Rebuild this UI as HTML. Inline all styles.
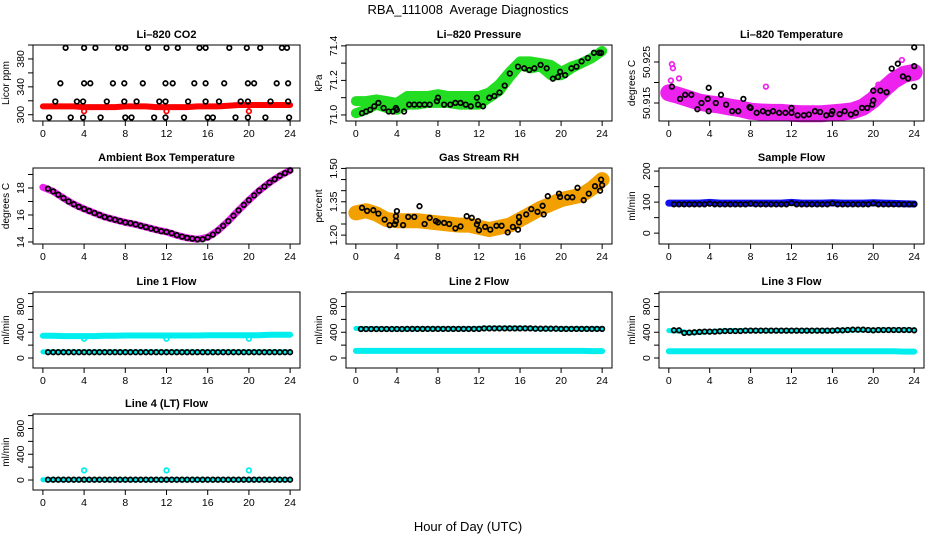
<!DOCTYPE html>
<html><head><meta charset="utf-8"><style>
html,body{margin:0;padding:0;background:#fff;}
svg{display:block;font-family:"Liberation Sans",Arial,sans-serif;}
</style></head><body>
<svg id="chart" width="936" height="540" viewBox="0 0 936 540">
<text x="468" y="14" text-anchor="middle" font-size="13" xml:space="preserve">RBA_111008  Average Diagnostics</text>
<text x="468" y="531" text-anchor="middle" font-size="13">Hour of Day (UTC)</text>
</svg>
<script>
// shared half-hour times for black average points
const T = [0.5,1,1.5,2,2.5,3,3.5,4,4.5,5,5.5,6,6.5,7,7.5,8,8.5,9,9.5,10,10.5,11,11.5,12,12.5,13,13.5,14,14.5,15,15.5,16,16.5,17,17.5,18,18.5,19,19.5,20,20.5,21,21.5,22,22.5,23,23.5,24];
const H = [0,1,2,3,4,5,6,7,8,9,10,11,12,13,14,15,16,17,18,19,20,21,22,23,24];
const xTicks = [0,4,8,12,16,20,24];

// CO2
const co2BandVals = [312,312,312,312,311,311,311,311,312,312,312,311,311,311,311,312,312,312,313,314,314,314,314,314,314];
const co2Times = [2.2,4.0,5.1,7.3,8.0,10.2,12.0,13.1,15.2,15.8,18.1,19.8,21.1,23.2,23.7, 1.7,4.0,4.6,6.8,7.9,9.7,11.9,12.6,14.7,15.8,17.6,19.9,20.5,22.7,23.8, 1.2,3.3,3.9,6.2,7.9,9.1,11.3,11.9,14.1,15.8,17.1,19.2,19.9,22.1,23.8, 0.6,2.7,3.9,5.6,8.0,8.6,10.8,11.9,13.7,16.0,16.5,18.7,19.9,21.6,23.9];
const co2Vals = [396,396,396,396,396,396,396,396,396,396,396,396,396,396,396, 345,345,345,345,345,345,345,345,345,345,345,345,345,345,345, 319,319,319,319,319,319,319,319,319,319,319,319,319,319,319, 296,296,296,296,296,296,296,296,296,296,296,296,296,296,296];
const co2OutT = [4,12,20];
const co2OutV = [305,305,305];

// Pressure
const presUpper = [71.08,71.08,71.09,71.08,71.07,71.11,71.11,71.11,71.12,71.11,71.11,71.11,71.11,71.13,71.18,71.25,71.31,71.31,71.30,71.29,71.25,71.28,71.30,71.33,71.37];
const presLower = [71.01,71.03,71.06,71.04,71.03,71.06,71.06,71.07,71.07,71.07,71.06,71.06,71.06,71.10,71.14,71.22,71.29,71.27,71.28,71.23,71.23,71.27,71.30,71.33,71.37];
const presTimes = [0.6,1,1.4,1.8,2.2,2.7,3.2,3.6,3.9,4,4.7,5.2,5.7,6.2,6.7,7.2,7.9,8,8.6,9.2,9.7,10.2,10.7,11.2,11.8,11.9,12.4,13,13.5,14,14.5,15,15.8,16.4,16.9,17.4,18,18.6,19.2,19.7,19.9,20.4,21,21.5,22,22.6,23.2,23.7,23.9];
const presVals = [71.01,71.02,71.03,71.05,71.07,71.04,71.02,71.02,71.04,71.03,71.02,71.06,71.06,71.06,71.06,71.06,71.08,71.10,71.06,71.06,71.07,71.07,71.06,71.05,71.10,71.06,71.05,71.10,71.11,71.13,71.17,71.24,71.28,71.27,71.26,71.27,71.29,71.27,71.21,71.22,71.25,71.23,71.27,71.28,71.31,71.33,71.36,71.36,71.36];

// Li-820 temperature
const tempBand = [50.9175,50.9168,50.9160,50.9152,50.9148,50.9145,50.9140,50.9136,50.9130,50.9128,50.9127,50.9127,50.9125,50.9124,50.9124,50.9124,50.9126,50.9128,50.9131,50.9140,50.9158,50.9183,50.9205,50.9220,50.9225];
const tempTimes = [0.3,1.1,1.6,2.2,2.8,3.2,3.8,3.9,3.9,4.6,5.1,5.6,6.2,6.8,7.3,7.9,8.0,8.6,9.2,9.7,10.2,10.8,11.4,12.0,12.0,12.6,13.2,13.7,14.3,14.8,15.4,15.9,16.0,16.7,17.2,17.8,18.3,18.9,19.4,19.9,20.0,20.0,20.7,21.3,21.8,22.4,22.9,23.4,24.0,24.0,24.0];
const tempVals = [50.9190,50.9160,50.9170,50.9170,50.9135,50.9150,50.9160,50.9187,50.9130,50.9150,50.9170,50.9146,50.9130,50.9130,50.9160,50.9140,50.9138,50.9126,50.9130,50.9126,50.9130,50.9126,50.9126,50.9126,50.9138,50.9120,50.9120,50.9122,50.9130,50.9128,50.9120,50.9123,50.9130,50.9123,50.9130,50.9122,50.9126,50.9138,50.9138,50.9146,50.9156,50.9180,50.9180,50.9176,50.9234,50.9246,50.9215,50.9210,50.9190,50.9240,50.9286];
const tempOutT = [0.3,0.4,9.5,1.0,22.8,0.2,20.5];
const tempOutV = [50.9245,50.9235,50.9190,50.9210,50.9255,50.9205,50.9195];

// Ambient box temperature
const ambBand = [18.05,17.75,17.25,16.8,16.45,16.15,15.85,15.65,15.45,15.3,15.1,14.9,14.75,14.5,14.3,14.2,14.35,14.85,15.55,16.35,17.1,17.8,18.4,18.9,19.3];
const ambVals = [17.95,17.75,17.5,17.25,17.0,16.8,16.6,16.45,16.3,16.15,16.0,15.85,15.75,15.65,15.55,15.45,15.4,15.3,15.2,15.1,15.0,14.9,14.8,14.75,14.65,14.5,14.4,14.3,14.25,14.2,14.2,14.35,14.55,14.85,15.2,15.55,15.95,16.35,16.75,17.1,17.45,17.8,18.1,18.4,18.65,18.9,19.1,19.3];

// Gas stream RH
const rhBand = [1.30,1.31,1.295,1.27,1.265,1.265,1.265,1.26,1.255,1.25,1.245,1.245,1.235,1.225,1.235,1.245,1.27,1.295,1.32,1.34,1.36,1.37,1.38,1.41,1.45];
const rhTimes = [0.6,1.1,1.7,2.2,2.8,3.3,3.8,3.9,4.0,3.9,4.6,5.1,5.7,6.2,6.7,7.2,7.8,8.0,8.6,9.1,9.7,10.2,10.8,11.3,11.8,11.9,12.0,12.6,13.1,13.7,14.2,14.8,15.3,15.8,15.9,15.9,16.6,17.1,17.7,18.2,18.7,18.3,19.8,19.9,20.6,21.1,21.6,22.2,22.7,23.3,23.8,23.9,24.0];
const rhVals = [1.323,1.309,1.312,1.297,1.270,1.245,1.248,1.285,1.308,1.263,1.245,1.282,1.282,1.330,1.250,1.278,1.263,1.257,1.255,1.250,1.230,1.239,1.285,1.278,1.248,1.263,1.222,1.237,1.225,1.242,1.242,1.212,1.237,1.225,1.257,1.282,1.293,1.317,1.305,1.332,1.375,1.293,1.387,1.372,1.370,1.370,1.413,1.357,1.387,1.420,1.400,1.450,1.425];

// Sample flow
const sampBand = [97,97,97,97,99,97,97,97,97,97,97,97,99,97,97,97,98,97,97,97,98,97,96,95,94];
const sampVals = [93,93,93,93,93,93,93,95,93,93,93,93,93,93,93,95,93,93,93,93,93,93,93,97,93,93,93,93,93,93,93,96,93,93,93,93,93,93,93,96,93,93,93,93,93,93,93,93];

// Line flows
const l1High = [345,345,340,340,340,340,345,345,350,350,350,350,350,350,350,350,355,355,355,355,355,355,360,360,360];
const l1Low = [95,95,95,95,95,95,95,95,95,95,95,95,95,95,95,95,95,95,95,95,95,95,95,95,95];
const l1Vals = [90,90,90,90,90,90,90,90,90,90,90,90,90,90,90,90,90,90,90,90,90,90,90,90,90,90,90,90,90,90,90,90,90,90,90,90,90,90,90,90,90,90,90,90,90,90,90,90];
const l1OutT = [4,12,20];
const l1OutV = [300,300,300];

const l2High = [460,455,455,450,450,450,455,455,455,455,455,455,460,465,465,465,465,460,455,455,455,455,455,455,455];
const l2Low = [110,110,110,110,110,110,110,110,110,110,110,110,110,110,110,110,110,110,110,110,110,110,110,108,108];
const l2Vals = [450,450,450,450,450,450,450,450,450,452,452,452,452,452,452,452,452,452,452,452,452,452,452,452,460,460,460,460,460,460,460,460,460,460,455,455,455,455,455,452,452,452,452,452,452,452,452,452];

const l3High = [425,420,390,400,410,420,425,425,425,425,425,425,425,425,425,425,425,430,435,435,430,435,435,435,435];
const l3Low = [105,105,105,105,105,105,105,105,105,105,105,105,105,105,105,105,105,105,105,105,105,105,105,100,100];
const l3Vals = [430,430,390,395,400,405,410,410,410,415,420,420,420,420,425,425,425,425,425,425,425,425,425,425,425,425,425,425,425,425,425,425,430,430,435,440,440,440,435,430,435,435,435,435,435,435,435,430];

const l4Band = [5,5,5,5,5,5,5,5,5,5,5,5,5,5,5,5,5,5,5,5,5,5,5,5,5];
const l4Vals = [5,5,5,5,5,5,5,5,5,5,5,5,5,5,5,5,5,5,5,5,5,5,5,5,5,5,5,5,5,5,5,5,5,5,5,5,5,5,5,5,5,5,5,5,5,5,5,5];
const l4OutT = [4,12,20];
const l4OutV = [150,150,150];

const NS = 'http://www.w3.org/2000/svg';
const svg = document.getElementById('chart');
const cols = [[33,300],[346,612],[659,924]];
const rows = [45,168,292,414];
const PH = 76;

function mk(tag, attrs, parent) {
  const e = document.createElementNS(NS, tag);
  for (const k in attrs) e.setAttribute(k, attrs[k]);
  (parent || svg).appendChild(e);
  return e;
}

function panel(key, ci, ri, title, ylab, ymin, ymax, ticks, labels) {
  const l = cols[ci][0], r = cols[ci][1], t = rows[ri], b = t + PH;
  const g = mk('g', {});
  
  
  const sx = v => l + (v + 0.96) / 25.92 * (r - l);
  const sy = v => b - (v - ymin) / (ymax - ymin) * (b - t);
  const tt = mk('text', {x: (l + r) / 2, y: t - 7, 'text-anchor': 'middle', 'font-size': 11, 'font-weight': 'bold'}, g);
  tt.textContent = title;
  
  
  const yl = mk('text', {x: 0, y: 0, transform: `translate(${l - 24},${(t + b) / 2}) rotate(-90)`, 'text-anchor': 'middle', 'font-size': 10}, g);
  yl.textContent = ylab;
  
  
  const xa = mk('g', {}, g);
  
  
  mk('line', {x1: sx(0), x2: sx(24), y1: b, y2: b, stroke: '#000'}, xa);
  xTicks.forEach(v => {
    mk('line', {x1: sx(v), x2: sx(v), y1: b, y2: b + 5, stroke: '#000'}, xa);
    const tx = mk('text', {x: sx(v), y: b + 16, 'text-anchor': 'middle', 'font-size': 10.5}, xa);
    tx.textContent = v;
  });
  const ya = mk('g', {}, g);
  
  
  mk('line', {x1: l, x2: l, y1: sy(ticks[0]), y2: sy(ticks[ticks.length - 1]), stroke: '#000'}, ya);
  ticks.forEach(v => mk('line', {x1: l - 5, x2: l, y1: sy(v), y2: sy(v), stroke: '#000'}, ya));
  labels.forEach(lb => {
    const ty = mk('text', {x: 0, y: 0, transform: `translate(${l - 9},${sy(parseFloat(lb))}) rotate(-90)`, 'text-anchor': 'middle', 'font-size': 10.5}, ya);
    ty.textContent = lb;
  });
  const plot = mk('g', {}, g);
  const box = mk('rect', {x: l, y: t, width: r - l, height: PH, fill: 'none', stroke: '#000'}, g);
  
  
  return {sx, sy, plot};
}

function band(p, name, xs, ys, color, w) {
  const pts = xs.map((x, i) => p.sx(x).toFixed(1) + ',' + p.sy(ys[i]).toFixed(1)).join(' ');
  const pl = mk('polyline', {points: pts, fill: 'none', stroke: color, 'stroke-width': w, 'stroke-linejoin': 'round', 'stroke-linecap': 'round'}, p.plot);
  
  
}

function dots(p, name, xs, ys, color, rad, sw) {
  const g = mk('g', {}, p.plot);
  
  
  xs.forEach((x, i) => {
    mk('circle', {cx: p.sx(x).toFixed(1), cy: p.sy(ys[i]).toFixed(1), r: rad || 2.3, fill: 'none', stroke: color, 'stroke-width': sw || 1.7}, g);
  });
}

let p = panel('co2', 0, 0, 'Li\u2013820 CO2', 'Licor ppm', 291, 400, [300,320,340,360,380,400], ['300','340','380']);
band(p, 'co2-band', H, co2BandVals, '#ff0000', 6);
dots(p, 'co2-outliers', co2OutT, co2OutV, '#ff0000');
dots(p, 'co2-averages', co2Times, co2Vals, '#000');

p = panel('pressure', 1, 0, 'Li\u2013820 Pressure', 'kPa', 70.965, 71.405, [71.0,71.1,71.2,71.3,71.4], ['71.0','71.2','71.4']);
band(p, 'pressure-band-upper', H, presUpper, '#22dd22', 10);
band(p, 'pressure-band-lower', H, presLower, '#22dd22', 10);
dots(p, 'pressure-averages', presTimes, presVals, '#000');

p = panel('temperature', 2, 0, 'Li\u2013820 Temperature', 'degrees C', 50.91061, 50.92915, [50.915,50.920,50.925], ['50.915','50.925']);
band(p, 'temperature-band', H, tempBand, '#ee22ee', 17);
dots(p, 'temperature-outliers', tempOutT, tempOutV, '#ee22ee');
dots(p, 'temperature-averages', tempTimes, tempVals, '#000');

p = panel('ambient', 0, 1, 'Ambient Box Temperature', 'degrees C', 13.85, 19.48, [14,15,16,17,18,19], ['14','16','18']);
band(p, 'ambient-band', H, ambBand, '#ee22ee', 7);
dots(p, 'ambient-averages', T, ambVals, '#000');

p = panel('rh', 1, 1, 'Gas Stream RH', 'percent', 1.16, 1.502, [1.20,1.25,1.30,1.35,1.40,1.45,1.50], ['1.20','1.35','1.50']);
band(p, 'rh-band', H, rhBand, '#f2a000', 15);
dots(p, 'rh-averages', rhTimes, rhVals, '#000');

p = panel('sample-flow', 2, 1, 'Sample Flow', 'ml/min', -35, 210, [0,50,100,150,200], ['0','100','200']);
band(p, 'sample-flow-band', H, sampBand, '#1010ee', 7);
dots(p, 'sample-flow-averages', T, sampVals, '#000');

const FT = [0,200,400,600,800,1000], FL = ['0','400','800'];
p = panel('line1', 0, 2, 'Line 1 Flow', 'ml/min', -155, 1025, FT, FL);
band(p, 'line1-band-high', H, l1High, '#00eeee', 6);
band(p, 'line1-band-low', H, l1Low, '#00eeee', 5);
dots(p, 'line1-outliers', l1OutT, l1OutV, '#00eeee');
dots(p, 'line1-averages', T, l1Vals, '#000');

p = panel('line2', 1, 2, 'Line 2 Flow', 'ml/min', -155, 1025, FT, FL);
band(p, 'line2-band-high', H, l2High, '#00eeee', 5);
band(p, 'line2-band-low', H, l2Low, '#00eeee', 6);
dots(p, 'line2-averages', T, l2Vals, '#000');

p = panel('line3', 2, 2, 'Line 3 Flow', 'ml/min', -155, 1025, FT, FL);
band(p, 'line3-band-high', H, l3High, '#00eeee', 5);
band(p, 'line3-band-low', H, l3Low, '#00eeee', 6);
dots(p, 'line3-averages', T, l3Vals, '#000');

p = panel('line4', 0, 3, 'Line 4 (LT) Flow', 'ml/min', -155, 1025, FT, FL);
band(p, 'line4-band', H, l4Band, '#00eeee', 5);
dots(p, 'line4-outliers', l4OutT, l4OutV, '#00eeee');
dots(p, 'line4-averages', T, l4Vals, '#000');
</script>
</body></html>
